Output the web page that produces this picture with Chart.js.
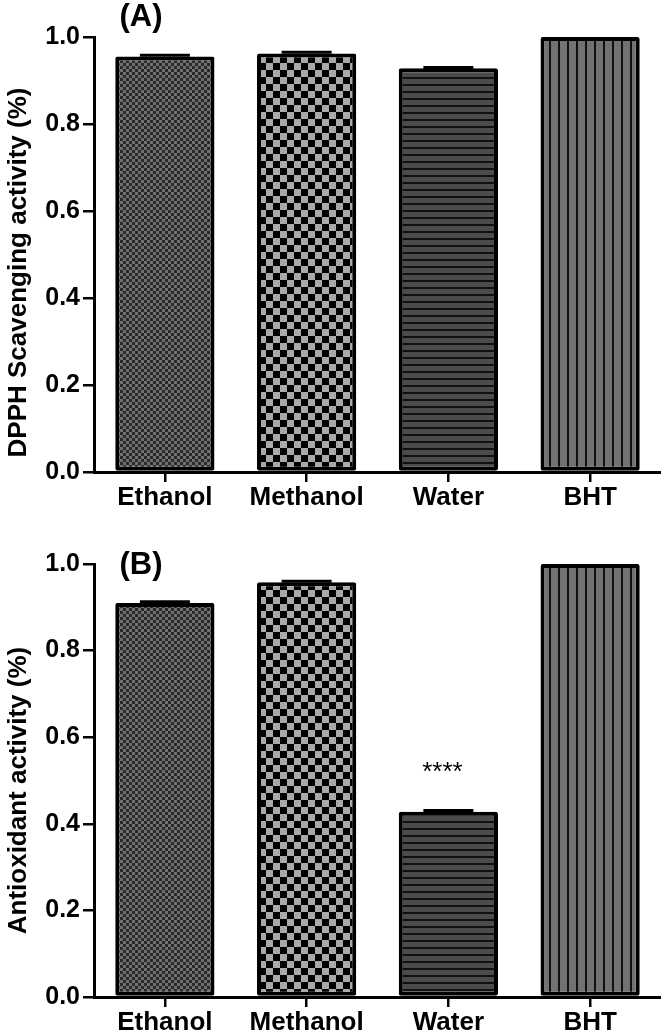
<!DOCTYPE html>
<html>
<head>
<meta charset="utf-8">
<script src="https://cdn.jsdelivr.net/npm/chart.js@4"></script>
<style>
  html, body { margin: 0; padding: 0; background: #fff; }
  canvas { display: block; }
</style>
</head>
<body>
<canvas id="chartA" width="661" height="527"></canvas>
<canvas id="chartB" width="661" height="508"></canvas>
<script>
// data
const categories = ['Ethanol', 'Methanol', 'Water', 'BHT'];
const dpphValues = [0.955, 0.962, 0.928, 1.0];
const dpphErrors = [0.003, 0.003, 0.002, 0.0];
const antioxValues = [0.910, 0.958, 0.428, 1.0];
const antioxErrors = [0.003, 0.002, 0.003, 0.0];
const antioxSig = ['', '', '****', ''];
const yTicks = [0, 0.2, 0.4, 0.6, 0.8, 1.0];

const FONT = "'Liberation Sans', Arial, sans-serif";

// fill patterns for the bars
function makePattern(w, h, draw) {
    const c = document.createElement('canvas');
    c.width = w; c.height = h;
    const g = c.getContext('2d');
    draw(g);
    return g.createPattern(c, 'repeat');
}

function checker(cell, dark, light) {
    return makePattern(cell * 2, cell * 2, g => {
        g.fillStyle = light; g.fillRect(0, 0, cell * 2, cell * 2);
        g.fillStyle = dark;
        g.fillRect(0, 0, cell, cell);
        g.fillRect(cell, cell, cell, cell);
    });
}

const patterns = [
    checker(3, '#2a2a2a', '#707070'),
    checker(7, '#000000', '#a9a9a9'),
    makePattern(8, 7, g => {
        g.fillStyle = '#4b4b4b'; g.fillRect(0, 0, 8, 7);
        g.fillStyle = '#111'; g.fillRect(0, 0, 8, 2);
    }),
    makePattern(9, 8, g => {
        g.fillStyle = '#727272'; g.fillRect(0, 0, 9, 8);
        g.fillStyle = '#111'; g.fillRect(0, 0, 2, 8);
    })
];

// error caps, significance stars, y title and the panel letter
const extrasPlugin = {
    id: 'extras',
    afterDatasetsDraw(chart, args, opts) {
        const ctx = chart.ctx;
        const meta = chart.getDatasetMeta(0);
        const y = chart.scales.y;
        const area = chart.chartArea;
        ctx.save();
        meta.data.forEach((bar, i) => {
            const err = opts.errors[i];
            if (err > 0) {
                const top = y.getPixelForValue(opts.values[i] + err);
                ctx.strokeStyle = '#000';
                ctx.lineWidth = 3;
                ctx.beginPath();
                ctx.moveTo(bar.x - 25, top);
                ctx.lineTo(bar.x + 25, top);
                ctx.stroke();
            }
            if (opts.sig && opts.sig[i]) {
                const top = y.getPixelForValue(opts.values[i] + err);
                ctx.fillStyle = '#000';
                ctx.font = '26px ' + FONT;
                ctx.textAlign = 'center';
                ctx.textBaseline = 'middle';
                ctx.fillText(opts.sig[i], bar.x - 6, top - 38);
            }
        });
        ctx.fillStyle = '#000';
        ctx.font = 'bold 31px ' + FONT;
        ctx.textAlign = 'center';
        ctx.textBaseline = 'middle';
        ctx.fillText(opts.letter, area.left + 47, area.top + opts.letterDy);

        // rotated y-axis title
        ctx.translate(19, (area.top + area.bottom) / 2 + opts.titleDy);
        ctx.rotate(-Math.PI / 2);
        ctx.font = 'bold 26px ' + FONT;
        ctx.fillText(opts.yTitle, 0, 0);
        ctx.restore();
    }
};

function buildChart(id, values, errors, sig, yTitle, titleDy, letter, letterDy, xHeight) {
    return new Chart(document.getElementById(id), {
        type: 'bar',
        data: {
            labels: categories,
            datasets: [{
                data: values,
                backgroundColor: patterns,
                borderColor: '#000',
                borderWidth: 4,
                borderRadius: 2,
                borderSkipped: false,
                barPercentage: 0.70,
                categoryPercentage: 1.0
            }]
        },
        options: {
            responsive: false,
            animation: false,
            layout: { padding: { top: 37, left: 0, right: 0, bottom: 0 } },
            plugins: {
                legend: { display: false },
                tooltip: { enabled: false },
                extras: { values, errors, sig, yTitle, titleDy, letter, letterDy }
            },
            scales: {
                x: {
                    offset: true,
                    grid: { display: true, offset: false, drawOnChartArea: false, drawTicks: true, tickLength: 10, color: '#000', lineWidth: 2.5 },
                    border: { display: true, color: '#000', width: 3 },
                    ticks: { color: '#000', font: { family: FONT, size: 26, weight: 'bold' }, padding: 0, maxRotation: 0 },
                    afterFit(scale) { scale.height = xHeight; }
                },
                y: {
                    min: 0,
                    max: 1.0,
                    afterBuildTicks(scale) { scale.ticks = yTicks.map(v => ({ value: v })); },
                    grid: { display: true, drawOnChartArea: false, drawTicks: true, tickLength: 11, color: '#000', lineWidth: 2.5 },
                    border: { display: true, color: '#000', width: 3 },
                    ticks: { color: '#000', font: { family: FONT, size: 25, weight: 'bold' }, padding: 3, callback: v => Number(v).toFixed(1) },
                    afterFit(scale) { scale.width = 94; }
                }
            }
        },
        plugins: [extrasPlugin]
    });
}

buildChart('chartA', dpphValues, dpphErrors, null, 'DPPH Scavenging activity (%)', 18, '(A)', -20, 55);
buildChart('chartB', antioxValues, antioxErrors, antioxSig, 'Antioxidant activity (%)', 10, '(B)', 1, 38);
</script>
</body>
</html>
